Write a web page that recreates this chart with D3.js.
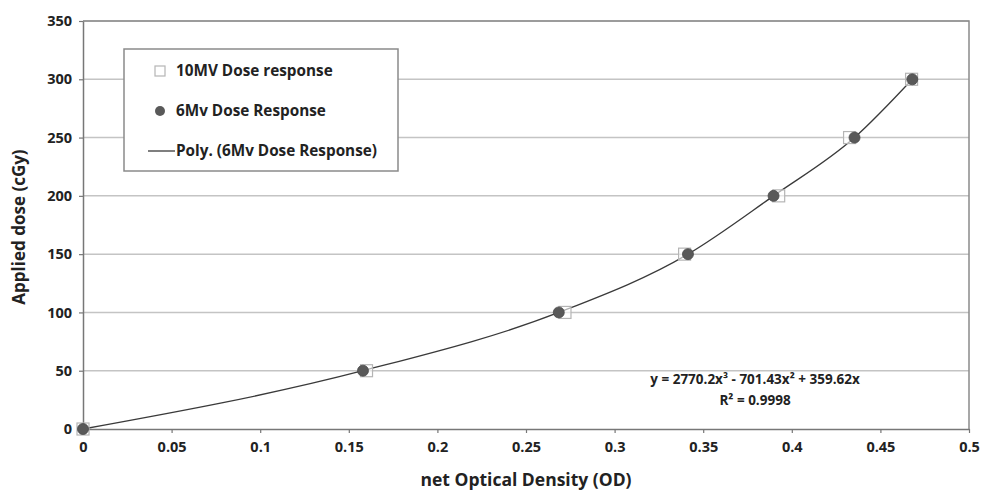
<!DOCTYPE html>
<html>
<head>
<meta charset="utf-8">
<script src="https://cdn.jsdelivr.net/npm/d3@7/dist/d3.min.js"></script>
<style>
  body { margin: 0; background: #fff; }
  svg text { font-family: "Open Sans", "DejaVu Sans", sans-serif; font-weight: bold; fill: #222; }
</style>
</head>
<body>
<div id="chart"></div>
<script>
// values
const doseLevels = [0, 50, 100, 150, 200, 250, 300];
const od10MV = [0, 0.160, 0.272, 0.3395, 0.3926, 0.4326, 0.4676];
const od6MV = [0, 0.158, 0.2685, 0.3414, 0.3897, 0.4354, 0.468];
const xTicks = [0, 0.05, 0.1, 0.15, 0.2, 0.25, 0.3, 0.35, 0.4, 0.45, 0.5];
const yTicks = [0, 50, 100, 150, 200, 250, 300, 350];
const legendLabels = ['10MV Dose response', '6Mv Dose Response', 'Poly. (6Mv Dose Response)'];
const equationText = ['y = 2770.2x³ - 701.43x² + 359.62x', 'R² = 0.9998'];

const margin = { top: 21, left: 83, right: 12, bottom: 62 },
  width = 981 - margin.left - margin.right,
  height = 491 - margin.top - margin.bottom;

let svg = d3.select('#chart')
  .append('svg')
    .attr('width', 981)
    .attr('height', 491);

let g = svg.append('g')
    .attr('transform', 'translate(' + margin.left + ',' + margin.top + ')');

let xScale = d3.scaleLinear().domain([0, 0.5]).range([0, width]);
let yScale = d3.scaleLinear().domain([0, 350]).range([height, 0]);

// gridlines
g.append('g')
  .selectAll('line')
  .data(yTicks.filter(d => d > 0))
  .enter().append('line')
    .attr('x1', 0)
    .attr('x2', width)
    .attr('y1', d => yScale(d))
    .attr('y2', d => yScale(d))
    .style('stroke', '#c4c4c4')
    .style('stroke-width', 1.5);

// plot frame (top and right)
g.append('path')
  .attr('d', 'M0,0H' + width + 'V' + height)
  .style('fill', 'none')
  .style('stroke', '#8a8a8a')
  .style('stroke-width', 1.5);

// axes
let xAxis = g.append('g')
  .attr('transform', 'translate(0,' + height + ')')
  .call(d3.axisBottom(xScale).tickValues(xTicks).tickFormat(d3.format('~g')).tickSize(4).tickSizeOuter(0));

let yAxis = g.append('g')
  .call(d3.axisLeft(yScale).tickValues(yTicks).tickSize(4).tickSizeOuter(0));

[xAxis, yAxis].forEach(a => {
  a.select('.domain').style('stroke', '#777').style('stroke-width', 1.5);
  a.selectAll('.tick line').style('stroke', '#777').style('stroke-width', 1.2);
  a.selectAll('.tick text').style('font-size', '14.5px').style('fill', '#222');
});
xAxis.selectAll('.tick text').attr('dy', '1.1em');
yAxis.selectAll('.tick text').attr('x', -11);

// axis titles
svg.append('text')
  .attr('x', margin.left + width / 2)
  .attr('y', 486)
  .attr('text-anchor', 'middle')
  .style('font-size', '17.5px')
  .text('net Optical Density (OD)');

svg.append('text')
  .attr('transform', 'translate(25,' + (margin.top + height / 2 + 2) + ') rotate(-90)')
  .attr('text-anchor', 'middle')
  .style('font-size', '17px')
  .text('Applied dose (cGy)');

// trend line through the 6Mv points
let pts6 = od6MV.map((x, i) => [x, doseLevels[i]]);
let pts10 = od10MV.map((x, i) => [x, doseLevels[i]]);

g.append('path')
  .datum(pts6)
  .attr('d', d3.line().x(d => xScale(d[0])).y(d => yScale(d[1])).curve(d3.curveMonotoneX))
  .style('fill', 'none')
  .style('stroke', '#3a3a3a')
  .style('stroke-width', 1.3);

// 10MV squares
g.append('g')
  .selectAll('rect')
  .data(pts10)
  .enter().append('rect')
    .attr('x', d => xScale(d[0]) - 6)
    .attr('y', d => yScale(d[1]) - 6)
    .attr('width', 12)
    .attr('height', 12)
    .style('fill', '#fff')
    .style('fill-opacity', 0.6)
    .style('stroke', '#b5b5b5')
    .style('stroke-width', 1.2);

// 6Mv circles
g.append('g')
  .selectAll('circle')
  .data(pts6)
  .enter().append('circle')
    .attr('cx', d => xScale(d[0]))
    .attr('cy', d => yScale(d[1]))
    .attr('r', 5.5)
    .style('fill', '#595959')
    .style('stroke', '#4a4a4a')
    .style('stroke-width', 0.8);

// equation
g.append('g')
  .selectAll('text')
  .data(equationText)
  .enter().append('text')
    .attr('x', 672)
    .attr('y', (d, i) => 363 + i * 21)
    .attr('text-anchor', 'middle')
    .style('font-size', '13.5px')
    .text(d => d);

// legend
let legend = svg.append('g').attr('transform', 'translate(124,49)');
legend.append('rect')
  .attr('width', 274)
  .attr('height', 122)
  .style('fill', '#fff')
  .style('stroke', '#8a8a8a')
  .style('stroke-width', 1.5);

let items = legend.selectAll('.legend')
  .data(legendLabels)
  .enter().append('g')
    .attr('class', 'legend')
    .attr('transform', (d, i) => 'translate(0,' + (22 + i * 40) + ')');

items.append('text')
  .attr('x', 52)
  .attr('dy', '0.35em')
  .style('font-size', '15.3px')
  .text(d => d);

items.filter((d, i) => i === 0).append('rect')
  .attr('x', 31).attr('y', -5).attr('width', 10).attr('height', 10)
  .style('fill', '#fff').style('stroke', '#b5b5b5').style('stroke-width', 1.2);
items.filter((d, i) => i === 1).append('circle')
  .attr('cx', 36).attr('r', 5)
  .style('fill', '#595959');
items.filter((d, i) => i === 2).append('line')
  .attr('x1', 24).attr('x2', 51)
  .style('stroke', '#3a3a3a').style('stroke-width', 1.3);
</script>
</body>
</html>
